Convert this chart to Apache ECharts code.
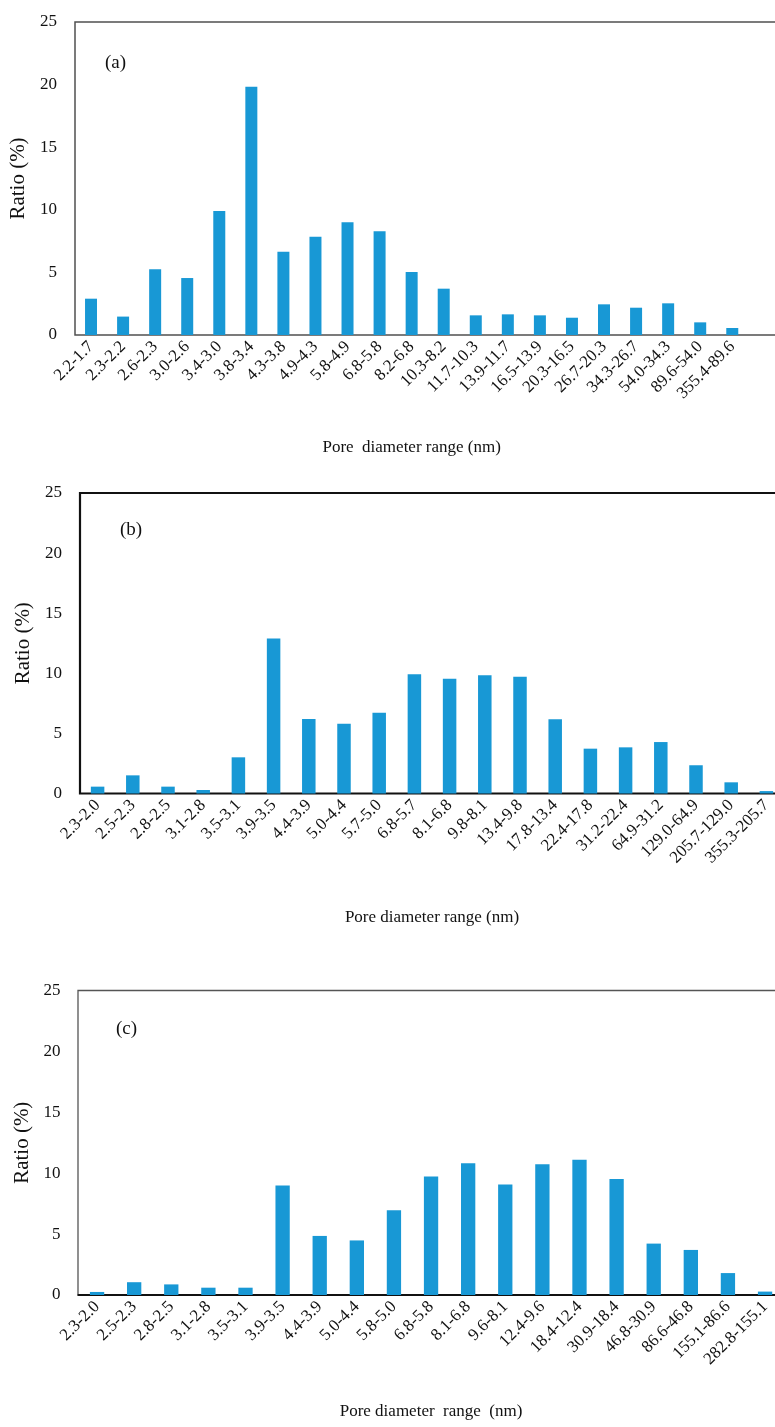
<!DOCTYPE html>
<html>
<head>
<meta charset="utf-8">
<script src="https://cdn.jsdelivr.net/npm/echarts@6/dist/echarts.min.js"></script>
<style>
  html, body { margin: 0; padding: 0; background: #fff; }
  #chart { width: 775px; height: 1427px; }
</style>
</head>
<body>
<div id="chart"></div>
<script>
// Pore diameter range categories (nm) and ratio (%) for the three samples
const catsA = ['2.2-1.7','2.3-2.2','2.6-2.3','3.0-2.6','3.4-3.0','3.8-3.4','4.3-3.8','4.9-4.3','5.8-4.9','6.8-5.8','8.2-6.8','10.3-8.2','11.7-10.3','13.9-11.7','16.5-13.9','20.3-16.5','26.7-20.3','34.3-26.7','54.0-34.3','89.6-54.0','355.4-89.6'];
const ratioA = [2.9, 1.47, 5.25, 4.55, 9.9, 19.83, 6.65, 7.85, 9.0, 8.28, 5.03, 3.7, 1.57, 1.65, 1.57, 1.38, 2.45, 2.18, 2.53, 1.01, 0.56];

const catsB = ['2.3-2.0','2.5-2.3','2.8-2.5','3.1-2.8','3.5-3.1','3.9-3.5','4.4-3.9','5.0-4.4','5.7-5.0','6.8-5.7','8.1-6.8','9.8-8.1','13.4-9.8','17.8-13.4','22.4-17.8','31.2-22.4','64.9-31.2','129.0-64.9','205.7-129.0','355.3-205.7'];
const ratioB = [0.57, 1.51, 0.57, 0.29, 3.01, 12.9, 6.2, 5.81, 6.72, 9.92, 9.55, 9.83, 9.72, 6.17, 3.73, 3.84, 4.28, 2.35, 0.93, 0.2];

const catsC = ['2.3-2.0','2.5-2.3','2.8-2.5','3.1-2.8','3.5-3.1','3.9-3.5','4.4-3.9','5.0-4.4','5.8-5.0','6.8-5.8','8.1-6.8','9.6-8.1','12.4-9.6','18.4-12.4','30.9-18.4','46.8-30.9','86.6-46.8','155.1-86.6','282.8-155.1'];
const ratioC = [0.25, 1.05, 0.87, 0.6, 0.6, 9.0, 4.85, 4.48, 6.95, 9.72, 10.82, 9.07, 10.74, 11.1, 9.53, 4.22, 3.7, 1.8, 0.28];

const yTicks = [0, 5, 10, 15, 20, 25];
const panelLabels = ['(a)', '(b)', '(c)'];
const xNames = ['Pore  diameter range (nm)', 'Pore diameter range (nm)', 'Pore diameter  range  (nm)'];
const yName = 'Ratio (%)';

const FONT = '"Liberation Serif", "Times New Roman", serif';
const BAR = '#1898d5';

// layout of each panel: data grid, surrounding frame, label spot
const panels = [
  { cats: catsA, vals: ratioA, grid: { left: 75, right: 26.7, top: 22, bottom: 1092 },
    frame: { left: 75, right: -20, borderColor: '#505050', borderWidth: 1.5 },
    axisLine: null, barWidth: 12, nameGap: 104, label: { left: 105, top: 54 } },
  { cats: catsB, vals: ratioB, grid: { left: 80, right: -9, top: 493, bottom: 633.5 },
    frame: { left: 80, right: -20, borderColor: '#111', borderWidth: 2.2 },
    axisLine: null, barWidth: 13.5, nameGap: 116, label: { left: 120, top: 521 } },
  { cats: catsC, vals: ratioC, grid: { left: 78.5, right: -8.6, top: 990.5, bottom: 132 },
    frame: { left: 78, right: -20, borderColor: '#555', borderWidth: 1.3 },
    axisLine: { color: '#111', width: 2.2 }, barWidth: 14.3, nameGap: 108, label: { left: 116, top: 1020 } }
];

const grids = [], xAxes = [], yAxes = [], series = [], titles = [];

panels.forEach((p, i) => {
  // frame grid (box outline)
  grids.push({ left: p.frame.left, right: p.frame.right, top: p.grid.top, bottom: p.grid.bottom,
    show: true, borderColor: p.frame.borderColor, borderWidth: p.frame.borderWidth,
    backgroundColor: 'transparent', containLabel: false, outerBoundsMode: 'none' });
  const fIdx = grids.length - 1;
  xAxes.push({ type: 'value', gridIndex: fIdx, show: false });
  yAxes.push({ type: 'value', gridIndex: fIdx, show: false });

  // data grid
  grids.push(Object.assign({ show: false, containLabel: false, outerBoundsMode: 'none' }, p.grid));
  const gIdx = grids.length - 1;
  xAxes.push({
    type: 'category', gridIndex: gIdx, data: p.cats,
    name: xNames[i], nameLocation: 'middle', nameGap: p.nameGap,
    nameTextStyle: { fontFamily: FONT, fontSize: 17, color: '#111' },
    axisLine: p.axisLine ? { show: true, lineStyle: p.axisLine } : { show: false },
    axisTick: { show: false },
    axisLabel: { rotate: 45, interval: 0, margin: 9, fontFamily: FONT, fontSize: 17, color: '#111' }
  });
  yAxes.push({
    type: 'value', gridIndex: gIdx, min: yTicks[0], max: yTicks[yTicks.length - 1], interval: 5,
    name: yName, nameLocation: 'middle', nameGap: 42,
    nameTextStyle: { fontFamily: FONT, fontSize: 21, color: '#111' },
    axisLine: { show: false }, axisTick: { show: false }, splitLine: { show: false },
    axisLabel: { margin: 18, fontFamily: FONT, fontSize: 17, color: '#111' }
  });
  const axIdx = xAxes.length - 1;
  series.push({
    type: 'bar', xAxisIndex: axIdx, yAxisIndex: axIdx, data: p.vals,
    barWidth: p.barWidth, itemStyle: { color: BAR }, silent: true
  });
  titles.push({ text: panelLabels[i], left: p.label.left, top: p.label.top, padding: 0,
    textStyle: { fontFamily: FONT, fontSize: 19, fontWeight: 'normal', color: '#111' } });
});

const chart = echarts.init(document.getElementById('chart'), null, { renderer: 'canvas' });
chart.setOption({
  animation: false,
  backgroundColor: '#fff',
  title: titles,
  grid: grids,
  xAxis: xAxes,
  yAxis: yAxes,
  series: series
});
</script>
</body>
</html>
